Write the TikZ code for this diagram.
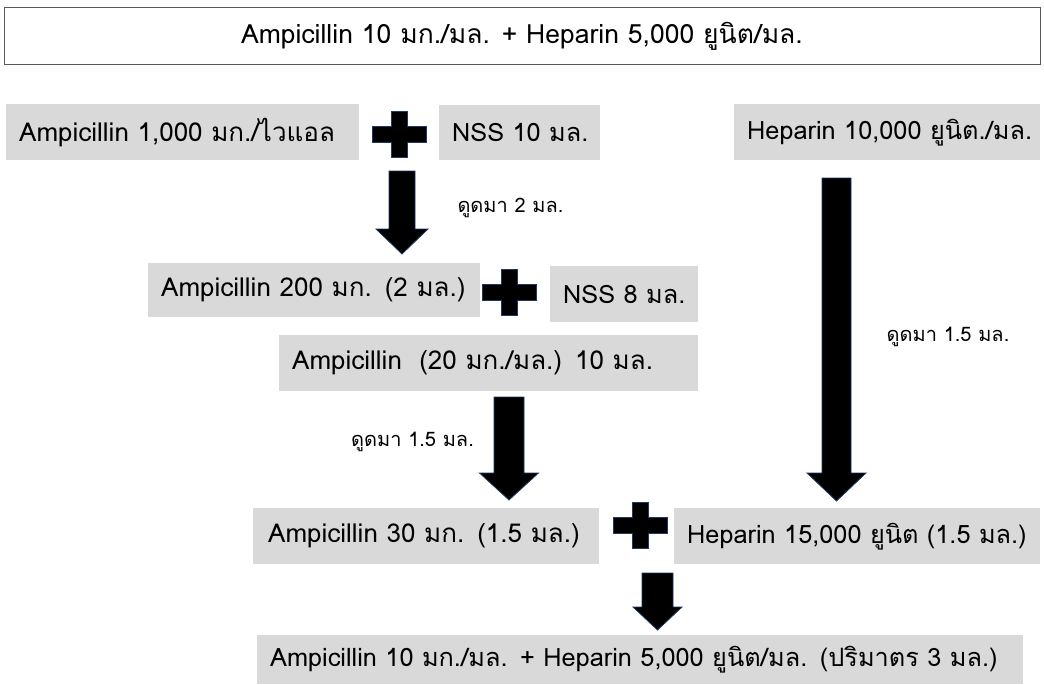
\documentclass[tikz,border=0pt]{standalone}
\usepackage{fontspec}
\setmainfont[Script=Thai]{Loma}
\usetikzlibrary{calc}
\definecolor{boxgray}{HTML}{D9D9D9}
\definecolor{edgenavy}{HTML}{1F3864}
\definecolor{topedge}{HTML}{595959}
\tikzset{
  gbox/.style={fill=boxgray, draw=none, anchor=north west, inner xsep=13pt, inner ysep=0pt, align=left, font=\fontsize{26}{29}\selectfont},
  smallfont/.style={font=\fontsize{25.3}{29}\selectfont},
  steplabel/.style={font=\fontsize{20}{22}\selectfont, inner sep=0pt},
  blockarrow/.style={fill=black, draw=edgenavy, line width=0.8pt, line join=miter},
}
\newcommand{\blockarr}[5]{%
  \draw[blockarrow] ($(#1)+(-#3,0)$) -- ($(#1)+(#3,0)$) -- ($(#2)+(#3,-#5)$) -- ($(#2)+(#4,-#5)$) -- (#2) -- ($(#2)+(-#4,-#5)$) -- ($(#2)+(-#3,-#5)$) -- cycle;}
\newcommand{\plussign}[1]{%
  \draw[blockarrow] ($(#1)+(-8,-23)$) -- ($(#1)+(8,-23)$) -- ($(#1)+(8,-8)$) -- ($(#1)+(27,-8)$) -- ($(#1)+(27,8)$) -- ($(#1)+(8,8)$) -- ($(#1)+(8,23)$) -- ($(#1)+(-8,23)$) -- ($(#1)+(-8,8)$) -- ($(#1)+(-27,8)$) -- ($(#1)+(-27,-8)$) -- ($(#1)+(-8,-8)$) -- cycle;}
\begin{document}
\begin{tikzpicture}[x=1pt,y=-1pt]
\useasboundingbox (0,0) rectangle (1044,685);
% title box
\node[draw=topedge, line width=1pt, minimum width=1036pt, minimum height=57pt, inner sep=0pt, font=\fontsize{26.5}{29}\selectfont] (title) at (522,36.5) {Ampicillin 10 มก./มล. + Heparin 5,000 ยูนิต/มล.};
% boxes
\node[gbox, minimum height=56pt, text width=327pt] (a1000) at (6,104) {\mbox{Ampicillin 1,000 มก./ไวแอล}};
\node[gbox, smallfont, minimum height=55pt, text width=135pt] (nss10) at (439,105) {\mbox{NSS 10 มล.}};
\node[gbox, smallfont, minimum height=56pt, text width=280pt] (hep10k) at (734,104) {\mbox{Heparin 10,000 ยูนิต./มล.}};
\node[gbox, minimum height=54pt, text width=306pt] (a200) at (148,263) {\mbox{Ampicillin 200 มก. (2 มล.)}};
\node[gbox, smallfont, minimum height=56pt, text width=122pt] (nss8) at (550,266) {\mbox{NSS 8 มล.}};
\node[gbox, minimum height=56pt, text width=393pt] (a20) at (279,335) {\mbox{Ampicillin~ (20 มก./มล.) 10 มล.}};
\node[gbox, minimum height=56pt, text width=316pt, inner xsep=15pt] (a30) at (253,508) {\mbox{Ampicillin 30 มก. (1.5 มล.)}};
\node[gbox, smallfont, minimum height=56pt, text width=340pt] (hep15k) at (674,508) {\mbox{Heparin 15,000 ยูนิต (1.5 มล.)}};
\node[gbox, smallfont, minimum height=49pt, text width=740pt] (final) at (257,635) {\mbox{Ampicillin 10 มก./มล. + Heparin 5,000 ยูนิต/มล. (ปริมาตร 3 มล.)}};
% labels
\node[steplabel] (lbl1) at (510.5,208) {ดูดมา 2 มล.};
\node[steplabel] (lbl2) at (948,337) {ดูดมา 1.5 มล.};
\node[steplabel] (lbl3) at (412.5,442) {ดูดมา 1.5 มล.};
% plus signs
\coordinate (p1) at (399,134.5);
\coordinate (p2) at (509.5,292.5);
\coordinate (p3) at (640,525);
\plussign{p1}
\plussign{p2}
\plussign{p3}
% arrows
\coordinate (a1s) at (402,171);
\coordinate (a1e) at (402,254);
\coordinate (ahs) at (836.5,178);
\coordinate (ahe) at (836.5,501);
\coordinate (a2s) at (509,397);
\coordinate (a2e) at (509,500);
\coordinate (a4s) at (657.5,573);
\coordinate (a4e) at (657.5,630);
\blockarr{a1s}{a1e}{13}{26}{25}
\blockarr{ahs}{ahe}{14.5}{29.5}{28}
\blockarr{a2s}{a2e}{15}{29.5}{27}
\blockarr{a4s}{a4e}{15.5}{24.5}{23}
\end{tikzpicture}
\end{document}
